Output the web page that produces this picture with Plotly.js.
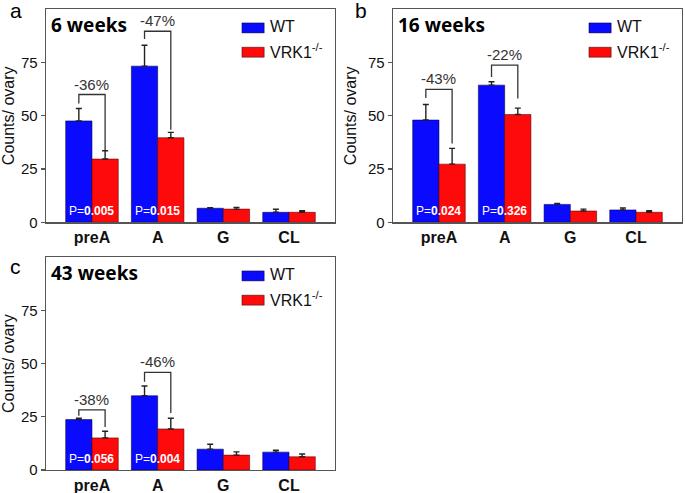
<!DOCTYPE html>
<html>
<head>
<meta charset="utf-8">
<script src="https://cdn.plot.ly/plotly-3.0.1.min.js"></script>
<style>html,body{margin:0;padding:0;background:#fff;}#chart{width:685px;height:493px;}</style>
</head>
<body>
<div id="chart"></div>
<script>
// ---- data ----
const categories = ['preA', 'A', 'G', 'CL'];
const seriesNames = ['WT', 'VRK1<sup>-/-</sup>'];
const panelLetters = ['a', 'b', 'c'];
const panelTitles = ['6 weeks', '16 weeks', '43 weeks'];

const wt6 = [47.6, 73.3, 6.6, 4.7];
const wt6Err = [5.8, 9.8, 0.3, 1.4];
const ko6 = [29.7, 39.7, 6.2, 4.7];
const ko6Err = [3.9, 2.5, 0.8, 0.7];

const wt16 = [48.0, 64.4, 8.4, 5.8];
const wt16Err = [7.3, 1.6, 0.5, 0.9];
const ko16 = [27.3, 50.6, 5.3, 4.7];
const ko16Err = [7.4, 3.0, 0.9, 0.7];

const wt43 = [23.7, 34.9, 9.8, 8.4];
const wt43Err = [0.6, 4.6, 2.3, 0.9];
const ko43 = [15.1, 19.3, 7.0, 6.2];
const ko43Err = [3.1, 5.0, 1.5, 1.3];

// p-values and % changes for preA and A
const pText6 = ['0.005', '0.015'];
const pText16 = ['0.024', '0.326'];
const pText43 = ['0.056', '0.004'];
const change6 = ['-36%', '-47%'];
const change16 = ['-43%', '-22%'];
const change43 = ['-38%', '-46%'];
// bracket levels (top, left leg end, right leg end)
const bracketTop6 = [60.0, 89.7];
const bracketLeft6 = [55.8, 86.0];
const bracketRight6 = [33.8, 43.4];
const bracketTop16 = [62.4, 73.8];
const bracketLeft16 = [58.4, 68.2];
const bracketRight16 = [37.0, 58.1];
const bracketTop43 = [28.3, 45.9];
const bracketLeft43 = [25.5, 41.5];
const bracketRight43 = [20.2, 26.8];

const yTicks = [0, 25, 50, 75];

// ---- build ----
const panels = [
  {wt: wt6, wtE: wt6Err, ko: ko6, koE: ko6Err, p: pText6, ch: change6, bt: bracketTop6, bl: bracketLeft6, br: bracketRight6},
  {wt: wt16, wtE: wt16Err, ko: ko16, koE: ko16Err, p: pText16, ch: change16, bt: bracketTop16, bl: bracketLeft16, br: bracketRight16},
  {wt: wt43, wtE: wt43Err, ko: ko43, koE: ko43Err, p: pText43, ch: change43, bt: bracketTop43, bl: bracketLeft43, br: bracketRight43}
];

const W = 685, H = 493;
const xDomains = [[46 / W, 335 / W], [393 / W, 682 / W], [46 / W, 335 / W]];
const yDomains = [[1 - 222.3 / H, 1 - 9.3 / H], [1 - 222.3 / H, 1 - 9.3 / H], [1 - 470 / H, 1 - 257.3 / H]];
const letterPos = [[16, 11], [361, 11], [16, 266]];

const FONT = 'Liberation Sans, Arial, sans-serif';
const TFONT = 'Noto Sans, Liberation Sans, sans-serif';
const BLUE = '#0a0aff';
const RED = '#ff0a0a';
const LINE = '#555555';
const barOffset = 0.2;

const traces = [];
const shapes = [];
const annotations = [];
const layout = {
  width: W, height: H,
  margin: {l: 0, r: 0, t: 0, b: 0},
  paper_bgcolor: '#ffffff', plot_bgcolor: '#ffffff',
  barmode: 'group', bargap: 0.2, bargroupgap: 0,
  showlegend: false,
  font: {family: FONT, color: '#111'},
};

panels.forEach((pn, i) => {
  const n = i === 0 ? '' : String(i + 1);
  const xa = 'x' + n, ya = 'y' + n;
  const zeros = categories.map(() => 0);
  traces.push({
    type: 'bar', name: 'WT', x: categories, y: pn.wt, xaxis: xa, yaxis: ya,
    marker: {color: BLUE, line: {color: 'rgba(0,0,60,0.7)', width: 0.8}},
    error_y: {type: 'data', symmetric: false, array: pn.wtE, arrayminus: zeros, color: '#222', thickness: 1.4, width: 3}
  });
  traces.push({
    type: 'bar', name: 'VRK1-/-', x: categories, y: pn.ko, xaxis: xa, yaxis: ya,
    marker: {color: RED, line: {color: 'rgba(80,0,0,0.7)', width: 0.8}},
    error_y: {type: 'data', symmetric: false, array: pn.koE, arrayminus: zeros, color: '#222', thickness: 1.4, width: 3}
  });

  layout['xaxis' + n] = {
    domain: xDomains[i], anchor: ya, type: 'category',
    categoryorder: 'array', categoryarray: categories,
    range: [-0.7, categories.length - 0.3],
    showline: true, mirror: true, linecolor: LINE, linewidth: 1.3,
    ticks: '', showgrid: false, zeroline: false,
    tickfont: {family: FONT, size: 16, color: '#111', weight: 'bold'}
  };
  layout['yaxis' + n] = {
    domain: yDomains[i], anchor: xa, range: [0, 100],
    tickvals: yTicks, ticks: 'outside', ticklen: 4, tickcolor: LINE, tickwidth: 1.2,
    showline: true, mirror: true, linecolor: LINE, linewidth: 1.3,
    showgrid: false, zeroline: false,
    tickfont: {family: FONT, size: 15, color: '#111'},
    title: {text: 'Counts/ ovary', font: {family: FONT, size: 16, color: '#111'}, standoff: 7}
  };

  const xd = xa + ' domain', yd = ya + ' domain';
  // panel title
  annotations.push({xref: xd, yref: yd, x: 0.01, y: 0.925, xanchor: 'left', yanchor: 'middle',
    text: '<b>' + panelTitles[i] + '</b>', showarrow: false, font: {family: TFONT, size: 19, color: '#000'}});
  // panel letter
  annotations.push({xref: 'paper', yref: 'paper', x: letterPos[i][0] / W, y: 1 - letterPos[i][1] / H,
    xanchor: 'center', yanchor: 'middle', text: panelLetters[i], showarrow: false,
    font: {family: FONT, size: 21, color: '#000'}});
  // legend (manual, wide swatches)
  const swatchColors = [BLUE, RED];
  const swatchY = [[0.889, 0.936], [0.775, 0.822]];
  swatchColors.forEach((c, k) => {
    shapes.push({type: 'rect', xref: xd, yref: yd, x0: 0.678, x1: 0.755, y0: swatchY[k][0], y1: swatchY[k][1],
      fillcolor: c, line: {color: 'rgba(0,0,0,0.55)', width: 0.8}});
    annotations.push({xref: xd, yref: yd, x: 0.768, y: (swatchY[k][0] + swatchY[k][1]) / 2 + 0.005,
      xanchor: 'left', yanchor: 'middle', text: seriesNames[k], showarrow: false,
      font: {family: FONT, size: 16, color: '#111'}});
  });
  // p-values, brackets, % change for first two categories
  pn.p.forEach((pv, k) => {
    annotations.push({xref: xa, yref: ya, x: k, y: 0, xanchor: 'center', yanchor: 'bottom', yshift: 2,
      text: 'P=<b>' + pv + '</b>', showarrow: false, font: {family: FONT, size: 12, color: '#ffffff'}});
    const xl = k - barOffset, xr = k + barOffset;
    shapes.push({type: 'path', xref: xa, yref: ya,
      path: `M ${xl},${pn.bl[k]} L ${xl},${pn.bt[k]} L ${xr},${pn.bt[k]} L ${xr},${pn.br[k]}`,
      line: {color: '#333', width: 1.3}});
    annotations.push({xref: xa, yref: ya, x: k, y: pn.bt[k], xanchor: 'center', yanchor: 'bottom', yshift: 0,
      text: pn.ch[k], showarrow: false, font: {family: FONT, size: 15, color: '#333'}});
  });
});

layout.shapes = shapes;
layout.annotations = annotations;

Plotly.newPlot('chart', traces, layout, {displayModeBar: false, staticPlot: true});
</script>
</body>
</html>
